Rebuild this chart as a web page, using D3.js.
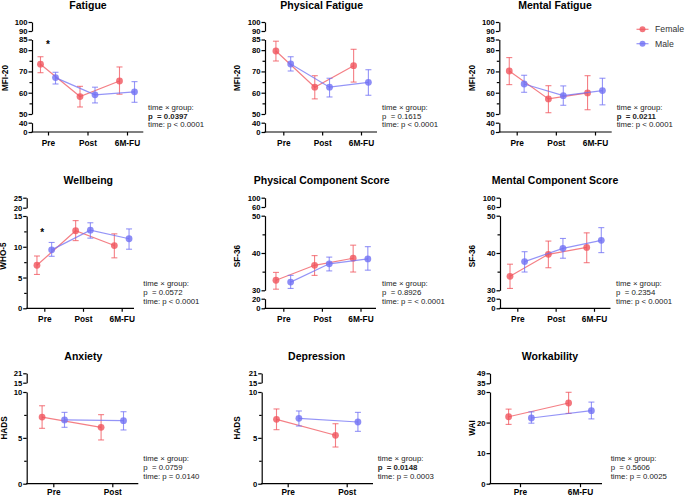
<!DOCTYPE html>
<html>
<head>
<meta charset="utf-8">
<script src="https://cdn.jsdelivr.net/npm/d3@7"></script>
<style>
  body { margin: 0; background: #fff; }
  svg { font-family: "Liberation Sans", Arial, sans-serif; }
</style>
</head>
<body>
<svg id="chart" width="685" height="498"></svg>
<script>
// ---- data ----
const groups = ["Female", "Male"];
const times3 = ["Pre", "Post", "6M-FU"];
const timesPrePost = ["Pre", "Post"];
const timesPre6M = ["Pre", "6M-FU"];

const titles = ["Fatigue", "Physical Fatigue", "Mental Fatigue",
  "Wellbeing", "Physical Component Score", "Mental Component Score",
  "Anxiety", "Depression", "Workability"];
const yLabels = ["MFI-20", "MFI-20", "MFI-20", "WHO-5", "SF-36", "SF-36", "HADS", "HADS", "WAI"];
const pInteraction = ["0.0397", "0.1615", "0.0211", "0.0572", "0.8926", "0.2354", "0.0759", "0.0148", "0.5606"];
const pInteractionSig = [true, false, true, false, false, false, false, true, false];
const pTime = ["p < 0.0001", "p < 0.0001", "p < 0.0001", "p < 0.0001", "p = < 0.0001",
  "p < 0.0001", "p = 0.0140", "p = 0.0003", "p = 0.0025"];

// means and error bar ends [low, high], Female / Male
const fatigueF = [73.4, 58.2, 65.5];
const fatigueFErr = [[69.4, 76.9], [53.3, 63.0], [59.3, 72.1]];
const fatigueM = [67.1, 59.0, 60.4];
const fatigueMErr = [[64.1, 69.6], [55.2, 62.6], [55.5, 65.2]];

const physFatF = [79.6, 62.6, 72.7];
const physFatFErr = [[74.9, 84.2], [57.1, 68.0], [65.0, 80.4]];
const physFatM = [73.5, 62.6, 64.9];
const physFatMErr = [[70.2, 76.9], [58.0, 66.8], [58.8, 70.8]];

const mentFatF = [70.2, 57.1, 59.9];
const mentFatFErr = [[63.8, 76.5], [50.6, 63.3], [52.0, 68.0]];
const mentFatM = [64.1, 58.6, 61.0];
const mentFatMErr = [[60.2, 68.2], [54.1, 63.2], [54.3, 66.8]];

const wellbeingF = [7.0, 12.6, 10.2];
const wellbeingFErr = [[5.5, 8.5], [11.0, 14.25], [8.2, 12.1]];
const wellbeingM = [9.5, 12.7, 11.3];
const wellbeingMErr = [[8.45, 10.7], [11.4, 13.9], [9.6, 12.9]];

const pcsF = [32.7, 36.7, 38.6];
const pcsFErr = [[30.3, 34.8], [34.0, 39.3], [34.9, 42.1]];
const pcsM = [32.2, 37.1, 38.4];
const pcsMErr = [[30.5, 34.0], [35.2, 38.9], [35.4, 41.7]];

const mcsF = [33.75, 39.65, 41.5];
const mcsFErr = [[30.5, 37.0], [36.05, 43.2], [37.4, 45.4]];
const mcsM = [37.7, 41.25, 43.4];
const mcsMErr = [[34.9, 40.35], [38.6, 43.9], [40.1, 46.8]];

const anxietyF = [7.27, 6.15];
const anxietyFErr = [[6.04, 8.5], [4.77, 7.53]];
const anxietyM = [6.95, 6.87];
const anxietyMErr = [[6.15, 7.78], [5.86, 7.85]];

const depressionF = [7.02, 5.28];
const depressionFErr = [[5.89, 8.15], [4.0, 6.54]];
const depressionM = [7.13, 6.73];
const depressionMErr = [[6.29, 7.93], [5.71, 7.78]];

const waiF = [21.9, 26.4];
const waiFErr = [[19.4, 24.4], [23.0, 29.9]];
const waiM = [21.5, 23.9];
const waiMErr = [[19.8, 23.5], [21.2, 26.7]];

// ---- broken y-axis segments (domain -> pixel range) ----
const segsMFI = [
  { d: [90, 100], r: [31, 22], ticks: [100, 90] },
  { d: [50, 85], r: [114, 39.5], ticks: [85, 80, 70, 60, 50], minor: [75, 65, 55], main: true },
  { d: [0, 40], r: [132, 122.7], ticks: [40, 0] }
];
const segsWHO = [
  { d: [20, 25], r: [207.7, 197.7], ticks: [25, 20] },
  { d: [0, 15], r: [308.3, 216], ticks: [15, 10, 5, 0], minor: [12.5, 7.5, 2.5], main: true }
];
const segsSF = [
  { d: [60, 100], r: [207, 197.7], ticks: [100, 60] },
  { d: [30, 50], r: [290.3, 215.7], ticks: [50, 40, 30], minor: [45, 35], main: true },
  { d: [0, 20], r: [308.3, 298.7], ticks: [20, 0] }
];
const segsHADS = [
  { d: [15, 21], r: [382.7, 373.3], ticks: [21, 15] },
  { d: [0, 10], r: [483.7, 392], ticks: [10, 5, 0], minor: [7.5, 2.5], main: true }
];
const segsWAI = [
  { d: [35, 49], r: [383.3, 373.3], ticks: [49, 35] },
  { d: [0, 30], r: [483.7, 392], ticks: [30, 20, 10, 0], main: true }
];

const rows = [
  { titleY: 8.5, axisY: 132, ylabY: 78, annY: 110, tickPad: 4.5 },
  { titleY: 183.5, axisY: 308.3, ylabY: 256, annY: 286.3, tickPad: 4.5 },
  { titleY: 360, axisY: 483.7, ylabY: 428, annY: 461.3, tickPad: 1.5 }
];

const panels = [
  { row: 0, cats: times3, segs: segsMFI, x0: 32, tx: [48, 127], x1: 143.3, titleX: 88, ylabX: 5, annX: 148,
    f: fatigueF, fe: fatigueFErr, m: fatigueM, me: fatigueMErr, star: [48, 48] },
  { row: 0, cats: times3, segs: segsMFI, x0: 265, tx: [283.3, 361], x1: 377, titleX: 321.7, ylabX: 237, annX: 382,
    f: physFatF, fe: physFatFErr, m: physFatM, me: physFatMErr },
  { row: 0, cats: times3, segs: segsMFI, x0: 499.3, tx: [516.7, 595], x1: 611.7, titleX: 555, ylabX: 471.7, annX: 616.7,
    f: mentFatF, fe: mentFatFErr, m: mentFatM, me: mentFatMErr },
  { row: 1, cats: times3, segs: segsWHO, x0: 26.7, tx: [44.3, 121.7], x1: 134, titleX: 88.3, ylabX: 3.5, annX: 143.3,
    f: wellbeingF, fe: wellbeingFErr, m: wellbeingM, me: wellbeingMErr, star: [42.3, 235.7] },
  { row: 1, cats: times3, segs: segsSF, x0: 265, tx: [283.3, 360.5], x1: 376, titleX: 321.7, ylabX: 237, annX: 382,
    f: pcsF, fe: pcsFErr, m: pcsM, me: pcsMErr },
  { row: 1, cats: times3, segs: segsSF, x0: 500, tx: [517.3, 594], x1: 610.5, titleX: 555, ylabX: 471.7, annX: 616,
    f: mcsF, fe: mcsFErr, m: mcsM, me: mcsMErr },
  { row: 2, cats: timesPrePost, segs: segsHADS, x0: 26.7, tx: [53.3, 112.3], x1: 138.3, titleX: 83.3, ylabX: 4, annX: 143.3,
    f: anxietyF, fe: anxietyFErr, m: anxietyM, me: anxietyMErr },
  { row: 2, cats: timesPrePost, segs: segsHADS, x0: 261.7, tx: [287.7, 346.7], x1: 373, titleX: 316.7, ylabX: 237.3, annX: 377.7,
    f: depressionF, fe: depressionFErr, m: depressionM, me: depressionMErr },
  { row: 2, cats: timesPre6M, segs: segsWAI, x0: 490, tx: [520, 580], x1: 602, titleX: 550, ylabX: 471.7, annX: 610.7,
    f: waiF, fe: waiFErr, m: waiM, me: waiMErr }
];

const colors = { Female: "#f0545c", Male: "#7070f4" };

const svg = d3.select("#chart");

function styleAxis(a, size) {
  a.selectAll("path, line").attr("stroke", "#000").attr("stroke-width", 1.2);
  a.selectAll("text").attr("font-family", "Liberation Sans, Arial, sans-serif")
    .attr("font-size", size).attr("font-weight", "bold").attr("fill", "#000");
}

panels.forEach((p, i) => {
  const row = rows[p.row];
  const g = svg.append("g");

  // x scale: point positions of the time points
  const x = d3.scalePoint().domain(p.cats).range(p.tx);
  const off = x.step() * 0.19;

  // y axis segments
  let y;
  p.segs.forEach(s => {
    const sc = d3.scaleLinear().domain(s.d).range(s.r);
    if (s.main) y = sc;
    const a = g.append("g").attr("transform", `translate(${p.x0},0)`)
      .call(d3.axisLeft(sc).tickValues(s.ticks).tickFormat(d3.format("~g"))
        .tickSize(3.5).tickSizeOuter(0).tickPadding(1));
    styleAxis(a, 7.7);
    if (s.minor) {
      const mn = g.append("g").attr("transform", `translate(${p.x0},0)`)
        .call(d3.axisLeft(sc).tickValues(s.minor).tickSize(2.5).tickFormat(""));
      mn.select(".domain").remove();
      styleAxis(mn, 7.7);
    }
  });

  // x axis
  const xa = g.append("g").attr("transform", `translate(0,${row.axisY})`)
    .call(d3.axisBottom(x).tickSize(3.5).tickPadding(row.tickPad));
  xa.select(".domain").remove();
  styleAxis(xa, 8.3);
  g.append("line")
    .attr("x1", p.x0 - 0.6).attr("x2", p.x1)
    .attr("y1", row.axisY).attr("y2", row.axisY)
    .attr("stroke", "#000").attr("stroke-width", 1.2);

  // series
  const series = [
    { key: "Female", vals: p.f, err: p.fe, dx: -off },
    { key: "Male", vals: p.m, err: p.me, dx: off }
  ];
  series.forEach(s => {
    const col = colors[s.key];
    const px = j => x(p.cats[j]) + s.dx;
    const line = d3.line().x((d, j) => px(j)).y(d => y(d));
    g.append("path").datum(s.vals)
      .attr("d", line).attr("fill", "none")
      .attr("stroke", col).attr("stroke-opacity", 0.75).attr("stroke-width", 1.2);
    const eb = g.append("g").attr("stroke", col).attr("stroke-opacity", 0.75).attr("stroke-width", 1.1);
    s.err.forEach((e, j) => {
      eb.append("line").attr("x1", px(j)).attr("x2", px(j)).attr("y1", y(e[0])).attr("y2", y(e[1]));
      e.forEach(v => {
        eb.append("line").attr("x1", px(j) - 3).attr("x2", px(j) + 3).attr("y1", y(v)).attr("y2", y(v));
      });
    });
    g.selectAll(null).data(s.vals).enter().append("circle")
      .attr("cx", (d, j) => px(j)).attr("cy", d => y(d)).attr("r", 3.4)
      .attr("fill", col).attr("fill-opacity", 0.8);
  });

  // title
  g.append("text").attr("x", p.titleX).attr("y", row.titleY)
    .attr("text-anchor", "middle").attr("font-size", 10.5).attr("font-weight", "bold")
    .text(titles[i]);

  // y label
  g.append("text")
    .attr("transform", `translate(${p.ylabX},${row.ylabY}) rotate(-90)`)
    .attr("dy", "0.35em").attr("text-anchor", "middle")
    .attr("font-size", 8.2).attr("font-weight", "bold")
    .text(yLabels[i]);

  // stats annotation
  const ann = g.append("g").attr("font-size", 7.8).attr("fill", "#222");
  ann.append("text").attr("x", p.annX).attr("y", row.annY).text("time \u00d7 group:");
  ann.append("text").attr("x", p.annX).attr("y", row.annY + 8.6)
    .attr("font-weight", pInteractionSig[i] ? "bold" : "normal")
    .style("white-space", "pre")
    .text("p  = " + pInteraction[i]);
  ann.append("text").attr("x", p.annX).attr("y", row.annY + 17.2).text("time: " + pTime[i]);

  if (p.star) {
    g.append("text").attr("x", p.star[0]).attr("y", p.star[1])
      .attr("text-anchor", "middle").attr("font-size", 10).attr("font-weight", "bold")
      .text("*");
  }
});

// legend
const legend = svg.append("g");
groups.forEach((k, i) => {
  const ly = 29.3 + i * 14.4;
  legend.append("line").attr("x1", 636.5).attr("x2", 648.5).attr("y1", ly).attr("y2", ly)
    .attr("stroke", colors[k]).attr("stroke-opacity", 0.75).attr("stroke-width", 1.2);
  legend.append("circle").attr("cx", 642.5).attr("cy", ly).attr("r", 3)
    .attr("fill", colors[k]).attr("fill-opacity", 0.8);
  legend.append("text").attr("x", 655).attr("y", ly).attr("dy", "0.35em")
    .attr("font-size", 8.7).attr("fill", "#333").text(k);
});
</script>
</body>
</html>
